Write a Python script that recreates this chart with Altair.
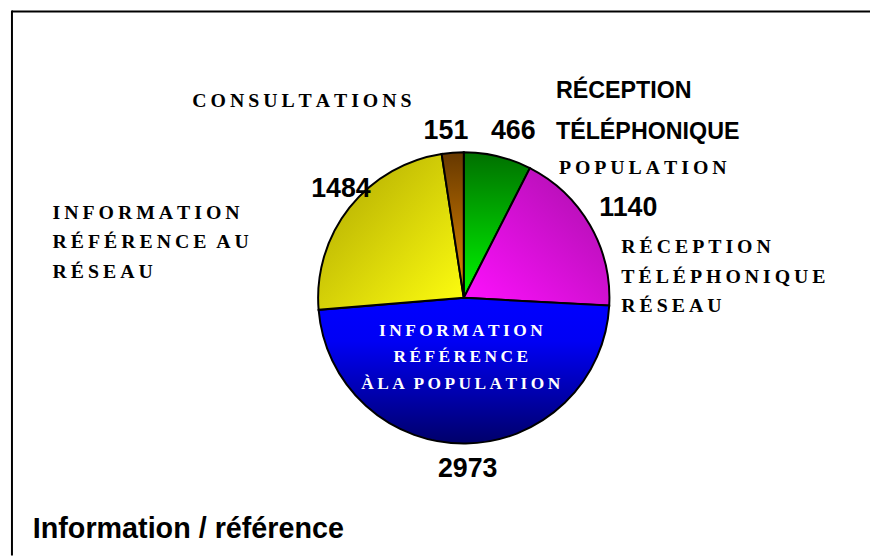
import altair as alt
import pandas as pd

# ---------------- data ----------------
CATEGORIES = [
    "RÉCEPTION TÉLÉPHONIQUE POPULATION",
    "RÉCEPTION TÉLÉPHONIQUE RÉSEAU",
    "INFORMATION RÉFÉRENCE À LA POPULATION",
    "INFORMATION RÉFÉRENCE AU RÉSEAU",
    "CONSULTATIONS",
]
VALUES = [466, 1140, 2973, 1484, 151]
ORDER = [0, 1, 2, 3, 4]
TITLE = "Information / référence"

# ---------------- layout / style ----------------
W, H = 870, 550
CX, CY, R = 460, 290, 147
SANS = "Liberation Sans, Arial, sans-serif"
SERIF = "Liberation Serif, Times New Roman, serif"


def grad(c0, c1, x1=0, y1=0, x2=0, y2=1, mid=None):
    stops = [alt.GradientStop(color=c0, offset=0)]
    if mid is not None:
        stops.append(alt.GradientStop(color=mid[0], offset=mid[1]))
    stops.append(alt.GradientStop(color=c1, offset=1))
    return alt.Gradient(gradient="linear", stops=stops, x1=x1, y1=y1, x2=x2, y2=y2)


FILLS = [
    grad("#007000", "#00f800"),
    grad("#a810a8", "#ff10ff", x1=1, y1=0, x2=0, y2=1),
    grad("#0000ff", "#00006a", mid=("#0000f4", 0.3)),
    grad("#aca400", "#ffff10", x1=0, y1=0, x2=1, y2=1),
    grad("#663800", "#ea8c00"),
]


def spaced(s):
    return "\u2009".join(list(s)).replace("\u2009 \u2009", "\u2002")


df = pd.DataFrame({"cat": CATEGORIES, "value": VALUES, "order": ORDER})

base = (
    alt.Chart(df)
    .transform_joinaggregate(total="sum(value)")
    .transform_window(cum="sum(value)", sort=[alt.SortField("order")], frame=[None, 0])
    .transform_calculate(
        t0="2*PI*(datum.cum-datum.value)/datum.total",
        t1="2*PI*datum.cum/datum.total",
    )
)

slices = []
for i in ORDER:
    slices.append(
        base.transform_filter(alt.datum.order == i)
        .mark_arc(outerRadius=R, stroke="black", strokeWidth=2, fill=FILLS[i])
        .encode(
            theta=alt.Theta("t0:Q", scale=None, stack=False),
            theta2="t1:Q",
            x=alt.value(CX),
            y=alt.value(CY),
        )
    )

# ---------------- labels ----------------
num_pos = {466: (510, 130), 1140: (626, 207), 2973: (464, 471), 1484: (336, 188), 151: (442, 130)}
num_df = pd.DataFrame(
    {"label": [str(v) for v in VALUES],
     "px": [num_pos[v][0] for v in VALUES],
     "py": [num_pos[v][1] for v in VALUES]}
)
numbers = alt.Chart(num_df).mark_text(
    font=SANS, fontSize=27, fontWeight="bold", color="black", align="center", baseline="alphabetic"
).encode(
    x=alt.X("px:Q", scale=None, axis=None),
    y=alt.Y("py:Q", scale=None, axis=None),
    text="label:N",
)

sans_lines = ["RÉCEPTION", "TÉLÉPHONIQUE"]
sans_df = pd.DataFrame({"label": sans_lines, "px": [553, 553], "py": [88, 130]})
sans_labels = alt.Chart(sans_df).mark_text(
    font=SANS, fontSize=23.5, fontWeight="bold", color="black", align="left", baseline="alphabetic"
).encode(
    x=alt.X("px:Q", scale=None, axis=None),
    y=alt.Y("py:Q", scale=None, axis=None),
    text="label:N",
)

serif_lines = [
    "CONSULTATIONS",
    "POPULATION",
    "RÉCEPTION", "TÉLÉPHONIQUE", "RÉSEAU",
    "INFORMATION", "RÉFÉRENCE AU", "RÉSEAU",
]
serif_px = [186, 556, 619, 619, 619, 45, 45, 45]
serif_py = [97, 165, 245, 275, 304, 210, 240, 270]
serif_df = pd.DataFrame({"label": [spaced(s) for s in serif_lines], "px": serif_px, "py": serif_py})
serif_labels = alt.Chart(serif_df).mark_text(
    font=SERIF, fontSize=20, fontWeight="bold", color="black", align="left", baseline="alphabetic"
).encode(
    x=alt.X("px:Q", scale=None, axis=None),
    y=alt.Y("py:Q", scale=None, axis=None),
    text="label:N",
)

inner_lines = ["INFORMATION", "RÉFÉRENCE", "ÀLA POPULATION"]
inner_df = pd.DataFrame({"label": [spaced(s) for s in inner_lines], "px": [457, 457, 457], "py": [328, 355, 382]})
inner_labels = alt.Chart(inner_df).mark_text(
    font=SERIF, fontSize=17.5, fontWeight="bold", color="white", align="center", baseline="alphabetic"
).encode(
    x=alt.X("px:Q", scale=None, axis=None),
    y=alt.Y("py:Q", scale=None, axis=None),
    text="label:N",
)

title_df = pd.DataFrame({"label": [TITLE], "px": [25], "py": [532]})
title = alt.Chart(title_df).mark_text(
    font=SANS, fontSize=29, fontWeight="bold", color="black", align="left", baseline="alphabetic"
).encode(
    x=alt.X("px:Q", scale=None, axis=None),
    y=alt.Y("py:Q", scale=None, axis=None),
    text="label:N",
)

frame_df = pd.DataFrame({"a": [0]})
top_line = alt.Chart(frame_df).mark_rule(color="black", strokeWidth=2).encode(
    x=alt.value(4), x2=alt.value(W), y=alt.value(1)
)
left_line = alt.Chart(frame_df).mark_rule(color="black", strokeWidth=2).encode(
    x=alt.value(4), y=alt.value(0), y2=alt.value(H)
)

chart = (
    alt.layer(*slices, numbers, sans_labels, serif_labels, inner_labels, title, top_line, left_line)
    .properties(width=W, height=H, padding=0, autosize=alt.AutoSizeParams(type="none"), background="white")
    .configure_view(stroke=None)
)

chart.save("out.html", embed_options={"renderer": "svg", "actions": False})
